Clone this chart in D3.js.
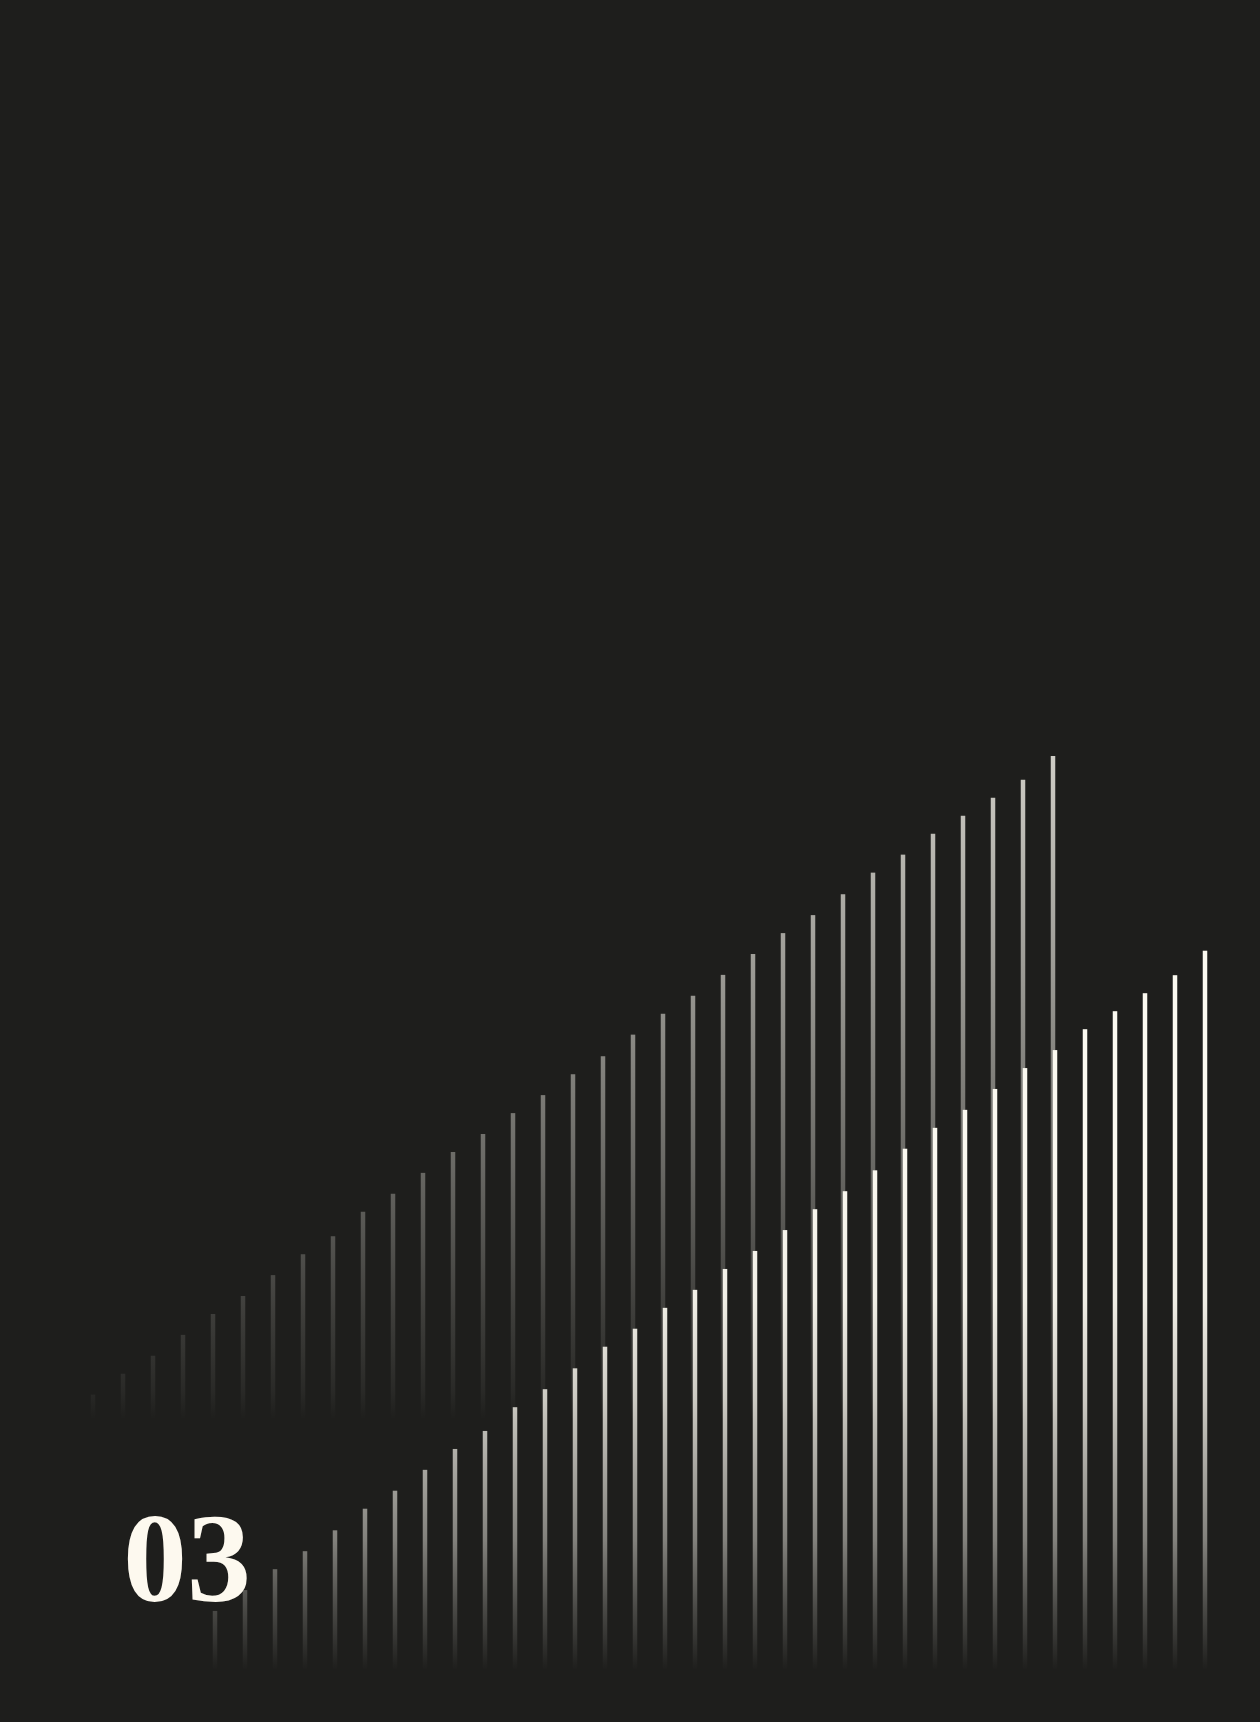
<!DOCTYPE html>
<html>
<head>
<meta charset="utf-8">
<script src="https://cdn.jsdelivr.net/npm/d3@7"></script>
<style>
  html, body { margin: 0; padding: 0; background: #1e1e1c; }
  svg { display: block; }
</style>
</head>
<body>
<svg id="chart"></svg>
<script>
// back row (grey, taller) - slots 0..32
const backValues = [6.3, 9.2, 11.7, 14.6, 17.5, 20.0, 22.9, 25.8, 28.3, 31.7, 34.2,
  37.1, 40.0, 42.5, 45.4, 47.9, 50.8, 53.3, 56.3, 59.2, 61.7, 64.6, 67.5, 70.4,
  72.9, 75.8, 78.8, 81.3, 84.2, 86.7, 89.2, 91.7, 95.0];
// front row (cream) - starts 4 slots later
const frontValues = [8.2, 11.1, 14.0, 16.5, 19.4, 22.4, 24.9, 27.8, 30.7, 33.2,
  36.5, 39.0, 41.9, 44.9, 47.4, 50.3, 52.8, 55.7, 58.2, 61.1, 64.0, 66.5, 69.4,
  72.4, 75.3, 77.8, 80.7, 83.6, 86.1, 89.0, 91.5, 94.0, 96.5, 99.9];
const frontOffset = 4;
const label = '03';

const W = 1260, H = 1722;
const cream = '#fbf9f0';
const barW = 4.5;

const svg = d3.select('#chart').attr('width', W).attr('height', H);
svg.append('rect').attr('width', W).attr('height', H).attr('fill', '#1e1e1c');

const nSlots = frontValues.length + frontOffset;
const x = d3.scaleLinear().domain([0, nSlots - 1]).range([93, 1203]);

const yBack = d3.scaleLinear().domain([0, 100]).range([1440, 720]);
const yFront = d3.scaleLinear().domain([0, 100]).range([1670, 950]);

const defs = svg.append('defs');

// fades are tied to the page height, not to each bar
function fade(id, y0, y1, stops) {
  const g = defs.append('linearGradient').attr('id', id)
    .attr('gradientUnits', 'userSpaceOnUse')
    .attr('x1', 0).attr('x2', 0).attr('y1', y0).attr('y2', y1);
  g.selectAll('stop').data(stops).enter().append('stop')
    .attr('offset', d => d[0])
    .attr('stop-color', cream)
    .attr('stop-opacity', d => d[1]);
}
fade('backFade', yBack(0), yBack(95), [[0, 0], [0.03, 0], [0.07, 0.05], [0.18, 0.14], [0.4, 0.34], [0.7, 0.58], [1, 0.8]]);
fade('frontFade', yFront(0), yFront(72), [[0, 0], [0.12, 0.2], [0.25, 0.45], [0.52, 0.78], [0.72, 0.95], [1, 1]]);

svg.append('g').selectAll('rect').data(backValues).enter().append('rect')
  .attr('x', (d, i) => x(i) - barW / 2)
  .attr('y', d => yBack(d))
  .attr('width', barW)
  .attr('height', d => yBack(0) - yBack(d))
  .attr('fill', 'url(#backFade)');

svg.append('g').selectAll('rect').data(frontValues).enter().append('rect')
  .attr('x', (d, i) => x(i + frontOffset) + 2 - barW / 2)
  .attr('y', d => yFront(d))
  .attr('width', barW)
  .attr('height', d => yFront(0) - yFront(d) + 2)
  .attr('fill', 'url(#frontFade)');

// big section number
svg.append('text')
  .attr('x', 123)
  .attr('y', 1601)
  .attr('font-family', '"Liberation Serif", "DejaVu Serif", serif')
  .attr('font-weight', 'bold')
  .attr('font-size', 128)
  .attr('fill', '#fdf9ef')
  .text(label);
</script>
</body>
</html>
